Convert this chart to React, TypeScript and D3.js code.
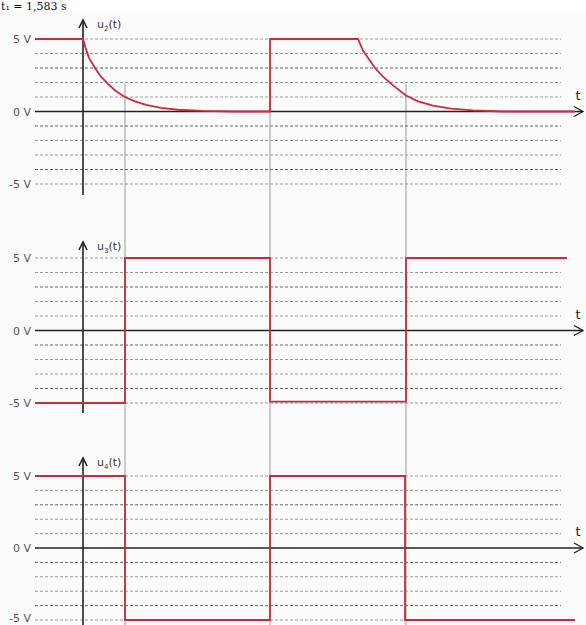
import React from 'react';
import * as d3 from 'd3';

// time in arbitrary units (y axis at t = 0), voltages in V
const voltTicks = [5, 0, -5];
const voltTickLabels = ['5 V', '0 V', '-5 V'];
const gridLevels = [5, 4, 3, 2, 1, -1, -2, -3, -4, -5];
const markerTimes = [42, 187, 323];

const u2Points: [number, number][] = [
  [-48, 5], [0, 5], [3, 4.3], [6, 3.7], [12, 3.0], [18, 2.4], [25, 1.9], [33, 1.4],
  [42, 1.0], [52, 0.7], [63, 0.45], [78, 0.25], [95, 0.12], [120, 0.04], [150, 0],
  [187, 0], [187, 5], [275, 5], [280, 4.2], [286, 3.6], [292, 3.0], [300, 2.4],
  [310, 1.8], [323, 1.1], [335, 0.7], [350, 0.4], [368, 0.2], [390, 0.08], [420, 0], [492, 0],
];
const u3Points: [number, number][] = [
  [-48, -5], [42, -5], [42, 5], [187, 5], [187, -4.9], [323, -4.9], [323, 5], [484, 5],
];
const u4Points: [number, number][] = [
  [-48, 5], [42, 5], [42, -5], [187, -5], [187, 5], [322, 5], [322, -5], [492, -5],
];

const panels = [
  { name: 'u2', sub: '2', data: u2Points, top: 39, bottom: 184, axisTop: 20, axisBottom: 195 },
  { name: 'u3', sub: '3', data: u3Points, top: 258, bottom: 403, axisTop: 242, axisBottom: 413 },
  { name: 'u4', sub: '4', data: u4Points, top: 476, bottom: 620, axisTop: 458, axisBottom: 625 },
];

const W = 586;
const H = 625;
const RED = '#cc2a3e';
const FONT = '"DejaVu Sans", Verdana, sans-serif';

const x = d3.scaleLinear().domain([-48, 500]).range([35, 583]);

const Panel = ({ p }: { p: typeof panels[number] }) => {
  const y = d3.scaleLinear().domain([-5, 5]).range([p.bottom, p.top]);
  const line = d3.line<[number, number]>().x(d => x(d[0])).y(d => y(d[1]));
  const x0 = x(0);
  const y0 = y(0);
  const xEnd = x(500);
  return (
    <g>
      {gridLevels.map((v, i) => (
        <line key={v} x1={x(-48)} x2={x(478)} y1={y(v)} y2={y(v)}
          stroke={i % 3 === 2 ? '#666' : '#999'} strokeWidth={1} strokeDasharray="3,2" />
      ))}
      {/* time axis */}
      <line x1={x(-48)} x2={xEnd} y1={y0} y2={y0} stroke="#222" strokeWidth={1.3} />
      <path d={`M${xEnd - 9},${y0 - 5} L${xEnd},${y0} L${xEnd - 9},${y0 + 5}`} fill="none" stroke="#222" strokeWidth={1.3} />
      <text x={xEnd - 5} y={y0 - 12} fontFamily={FONT} fontSize={13} fill="#222" textAnchor="middle">t</text>
      {/* voltage axis */}
      <line x1={x0} x2={x0} y1={p.axisTop} y2={p.axisBottom} stroke="#222" strokeWidth={1.6} />
      <path d={`M${x0 - 4},${p.axisTop + 8} L${x0},${p.axisTop} L${x0 + 4},${p.axisTop + 8}`} fill="none" stroke="#222" strokeWidth={1.6} />
      <text x={x0 + 14} y={p.axisTop + 8} fontFamily={FONT} fontSize={11} fill="#333">
        u<tspan fontSize={7} dy={3}>{p.sub}</tspan><tspan dy={-3}>(t)</tspan>
      </text>
      {voltTicks.map((v, i) => (
        <text key={v} x={31} y={Math.min(y(v) + 4, 622)} fontFamily={FONT} fontSize={11} fill="#555" textAnchor="end">
          {voltTickLabels[i]}
        </text>
      ))}
      <path d={line(p.data) || ''} fill="none" stroke={RED} strokeWidth={1.8} strokeLinejoin="miter" />
    </g>
  );
};

export default function App() {
  return (
    <svg width={W} height={H} style={{ position: 'absolute', left: 0, top: 0, background: '#fbfbfb' }}>
      <rect x={0} y={0} width={W} height={11} fill="#fff" />
      <text x={1} y={10} fontFamily="'DejaVu Serif', serif" fontSize={11} fill="#111">t₁ = 1,583 s</text>
      {markerTimes.map(t => (
        <line key={t} x1={x(t)} x2={x(t)} y1={84} y2={H} stroke="#999" strokeWidth={1} />
      ))}
      {panels.map(p => <Panel key={p.name} p={p} />)}
    </svg>
  );
}
